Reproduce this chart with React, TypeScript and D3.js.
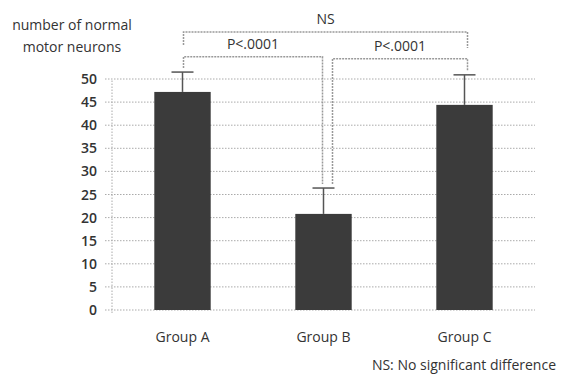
import React from 'react';
import * as d3 from 'd3';

// values
const groups = ['Group A', 'Group B', 'Group C'];
const means = [47.2, 20.8, 44.4];
const errorTops = [51.5, 26.4, 50.9];
const yTicks = [0, 5, 10, 15, 20, 25, 30, 35, 40, 45, 50];

const brackets = [
  { from: 'Group A', to: 'Group C', level: 60.2, label: 'NS', legs: 'short' },
  { from: 'Group A', to: 'Group B', level: 54.8, label: 'P<.0001', legs: 'long' },
  { from: 'Group B', to: 'Group C', level: 54.4, label: 'P<.0001', legs: 'long' },
];

const W = 562;
const H = 376;
const margin = { top: 79, right: 27, bottom: 66, left: 112 };
const font = "'Open Sans', sans-serif";

export default function App() {
  const innerW = W - margin.left - margin.right;
  const innerH = H - margin.top - margin.bottom;

  const x = d3.scaleBand().domain(groups).range([margin.left, margin.left + innerW])
    .paddingInner(0.6).paddingOuter(0.3);
  const y = d3.scaleLinear().domain([0, 50]).range([margin.top + innerH, margin.top]);
  const cx = (g: string) => (x(g) as number) + x.bandwidth() / 2;
  const idx = (g: string) => groups.indexOf(g);

  const bracketPaths = brackets.map((b, i) => {
    const x1 = cx(b.from) + (b.from === 'Group B' ? 9 : 1);
    const x2 = cx(b.to) + (b.to === 'Group B' ? -1 : 3);
    const top = y(b.level);
    const end1 = b.legs === 'short' ? top + 13 : y(errorTops[idx(b.from)]) - 4;
    const end2 = b.legs === 'short' ? top + 16 : y(errorTops[idx(b.to)]) - 4;
    const path = d3.path();
    path.moveTo(x1, end1);
    path.lineTo(x1, top);
    path.lineTo(x2, top);
    path.lineTo(x2, end2);
    return { d: path.toString(), tx: (x1 + x2) / 2, ty: top - 8, label: b.label, key: i };
  });

  return (
    <svg width={W} height={H} style={{ position: 'absolute', left: 0, top: 0, background: '#fff' }}>
      {/* grid */}
      <g stroke="#aaa" strokeWidth={1} strokeDasharray="1.5,1.5">
        {yTicks.map(t => (
          <line key={t} x1={margin.left - 7} x2={margin.left + innerW} y1={y(t)} y2={y(t)} />
        ))}
        <line x1={margin.left} x2={margin.left} y1={y(0) + 3} y2={y(50)} />
      </g>
      {/* tick labels */}
      <g fontFamily={font} fontSize={14} fontWeight={600} fill="#333" textAnchor="end">
        {yTicks.map(t => (
          <text key={t} x={margin.left - 15} y={y(t)} dy="0.36em">{t}</text>
        ))}
      </g>
      {/* bars */}
      {groups.map((g, i) => (
        <rect key={g} x={x(g)} y={y(means[i])} width={x.bandwidth()} height={y(0) - y(means[i])}
          fill="#3b3b3b" />
      ))}
      {/* error bars */}
      {groups.map((g, i) => (
        <g key={'e' + g} stroke="#555" strokeWidth={1.5}>
          <line x1={cx(g)} x2={cx(g)} y1={y(means[i])} y2={y(errorTops[i])} />
          <line x1={cx(g) - 11} x2={cx(g) + 11} y1={y(errorTops[i])} y2={y(errorTops[i])} />
        </g>
      ))}
      {/* significance brackets */}
      {bracketPaths.map(b => (
        <g key={b.key}>
          <path d={b.d} fill="none" stroke="#999" strokeWidth={1.5} strokeDasharray="2,1" />
          <text x={b.tx} y={b.ty} textAnchor="middle" fontFamily={font} fontSize={14} fill="#333">
            {b.label}
          </text>
        </g>
      ))}
      {/* y title */}
      <g fontFamily={font} fontSize={14} fill="#333" textAnchor="middle">
        <text x={72} y={30}>number of normal</text>
        <text x={72} y={52}>motor neurons</text>
      </g>
      {/* x labels */}
      <g fontFamily={font} fontSize={14} fill="#333" textAnchor="middle">
        {groups.map(g => (
          <text key={g} x={cx(g)} y={342}>{g}</text>
        ))}
      </g>
      <text x={556} y={370} textAnchor="end" fontFamily={font} fontSize={14} fill="#333">
        NS: No significant difference
      </text>
    </svg>
  );
}
